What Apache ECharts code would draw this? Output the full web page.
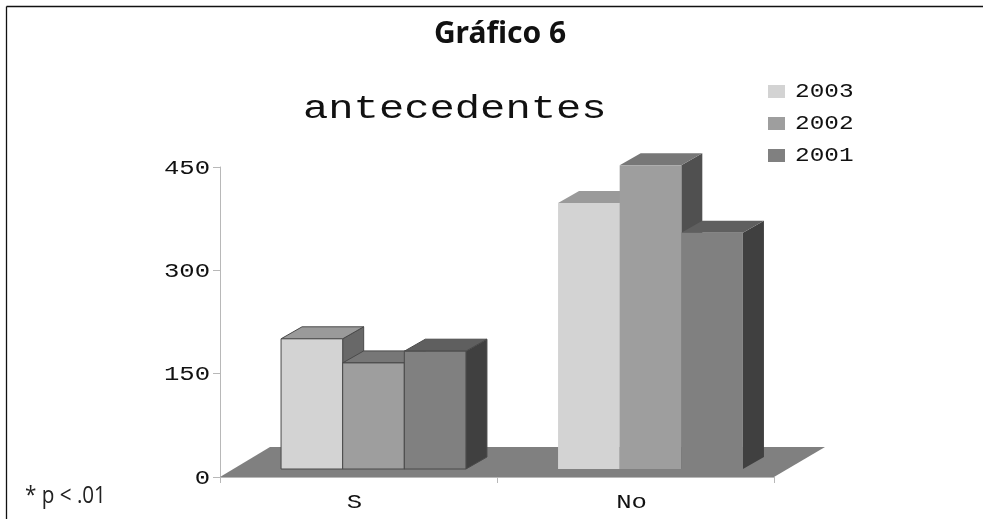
<!DOCTYPE html>
<html><head><meta charset="utf-8">
<style>html,body{margin:0;padding:0;background:#fff}#c{width:983px;height:519px}</style>
<script src="https://cdn.jsdelivr.net/npm/echarts@6/dist/echarts.min.js"></script>
</head><body><div id="c"></div>
<script>
var categories = ['S', 'No'];
var yTicks = [0, 150, 300, 450];
var years = ['2003', '2002', '2001'];
var values2003 = [189, 386];
var values2002 = [154, 441];
var values2001 = [171, 343];
var seriesValues = [values2003, values2002, values2001];
var frontColors = ['#d3d3d3', '#9e9e9e', '#808080'];
var topColors = ['#9a9a9a', '#777777', '#5f5f5f'];
var sideColors = ['#686868', '#505050', '#404040'];

var DX = 21, DY = 12, LIFT = 8, SHIFT = 15;
var MONO = '"Liberation Mono"';

function poly(pts, fill, stroke) {
  return {type:'polygon', shape:{points:pts}, style:{fill:fill, stroke:stroke||null, lineWidth:stroke?1:0}};
}
function barRender(s) {
  return function(params, api) {
    var i = api.value(0), v = api.value(1);
    var band = api.size([1,0])[0];
    var w = band * 0.2225;
    var c = api.coord([i, v]), b = api.coord([i, 0]);
    var x0 = c[0] + SHIFT + (s - 1.5) * w;
    var x1 = x0 + w, yt = c[1] - LIFT, yb = b[1] - LIFT;
    var o = i === 0 ? '#4a4a4a' : null;
    return {type:'group', children:[
      poly([[x1,yt],[x1+DX,yt-DY],[x1+DX,yb-DY],[x1,yb]], sideColors[s], o),
      poly([[x0,yt],[x0+DX,yt-DY],[x1+DX,yt-DY],[x1,yt]], topColors[s], o),
      poly([[x0,yt],[x1,yt],[x1,yb],[x0,yb]], frontColors[s], o)
    ]};
  };
}
function stretched(text, x, y, size, sx, align) {
  return {type:'text', x:x, y:y, scaleX:sx, originX:0, originY:0,
    style:{text:text, fontFamily:MONO, fontSize:size, fill:'#111', align:align, verticalAlign:'middle'}};
}
var series = [{
  type:'custom', name:'floor', silent:true, z:1, data:[[0,0]],
  renderItem:function(p, api){
    var band = api.size([1,0])[0];
    var c = api.coord([0,0]), d = api.coord([1,0]);
    var a = [c[0]-band/2, c[1]], b = [d[0]+band/2, d[1]];
    return poly([a,[a[0]+50,a[1]-30],[b[0]+51,b[1]-30],b], '#808080');
  }
}];
seriesValues.forEach(function(vals, s){
  series.push({type:'custom', name:years[s], z:2+s, silent:true,
    data:vals.map(function(v,i){return [i,v];}), encode:{x:0,y:1},
    itemStyle:{color:frontColors[s]}, renderItem:barRender(s)});
});
series.push({type:'custom', name:'yLabels', silent:true, z:9, data:yTicks.map(function(t){return [0,t];}),
  renderItem:function(p, api){
    var c = api.coord([0, api.value(1)]);
    var band = api.size([1,0])[0];
    return stretched(String(api.value(1)), c[0]-band/2-10, c[1]+1, 21, 1.22, 'right');
  }});
series.push({type:'custom', name:'xLabels', silent:true, z:9, data:categories.map(function(t,i){return [i,0];}),
  renderItem:function(p, api){
    var c = api.coord([api.value(0), 0]);
    return stretched(categories[api.value(0)], c[0]-4, c[1]+25, 21, 1.22, 'center');
  }});

var legendItems = [];
years.forEach(function(y, s){
  var ty = 85 + s*32;
  legendItems.push({type:'rect', shape:{x:768,y:ty,width:17,height:13}, style:{fill:frontColors[s]}});
  legendItems.push(stretched(y, 795, ty+6.5, 20, 1.22, 'left'));
});
var chart = echarts.init(document.getElementById('c'), null, {renderer:'canvas'});
chart.setOption({
  animation:false,
  backgroundColor:'#fff',
  grid:{left:220, right:209, top:167, bottom:42},
  xAxis:{type:'category', data:categories, boundaryGap:true,
    axisLine:{lineStyle:{color:'#b8b8b8'}}, axisTick:{show:true, length:6, lineStyle:{color:'#b8b8b8'}},
    axisLabel:{show:false}, splitLine:{show:false}},
  yAxis:{type:'value', min:0, max:450, interval:150,
    axisLine:{show:true, lineStyle:{color:'#b8b8b8'}}, axisTick:{show:true, length:7, lineStyle:{color:'#b8b8b8'}},
    axisLabel:{show:false}, splitLine:{show:false}},
  series:series,
  graphic:[
    {type:'line', shape:{x1:6.5,y1:6.5,x2:6.5,y2:519}, style:{stroke:'#111', lineWidth:1.3}},
    {type:'line', shape:{x1:6.5,y1:6.5,x2:983,y2:6.5}, style:{stroke:'#111', lineWidth:1.3}},
    {type:'text', x:500, y:34, style:{text:'Gráfico 6', fontFamily:'"Noto Sans"', fontWeight:'bold', fontSize:30, fill:'#111', align:'center', verticalAlign:'middle'}},
    stretched('antecedentes', 303, 109, 34, 1.24, 'left'),
    {type:'text', x:25, y:496, scaleX:0.86, style:{text:'* p < .01', fontFamily:'"Open Sans"', fontSize:24, fill:'#222', align:'left', verticalAlign:'middle'}}
  ].concat(legendItems)
});
</script></body></html>
